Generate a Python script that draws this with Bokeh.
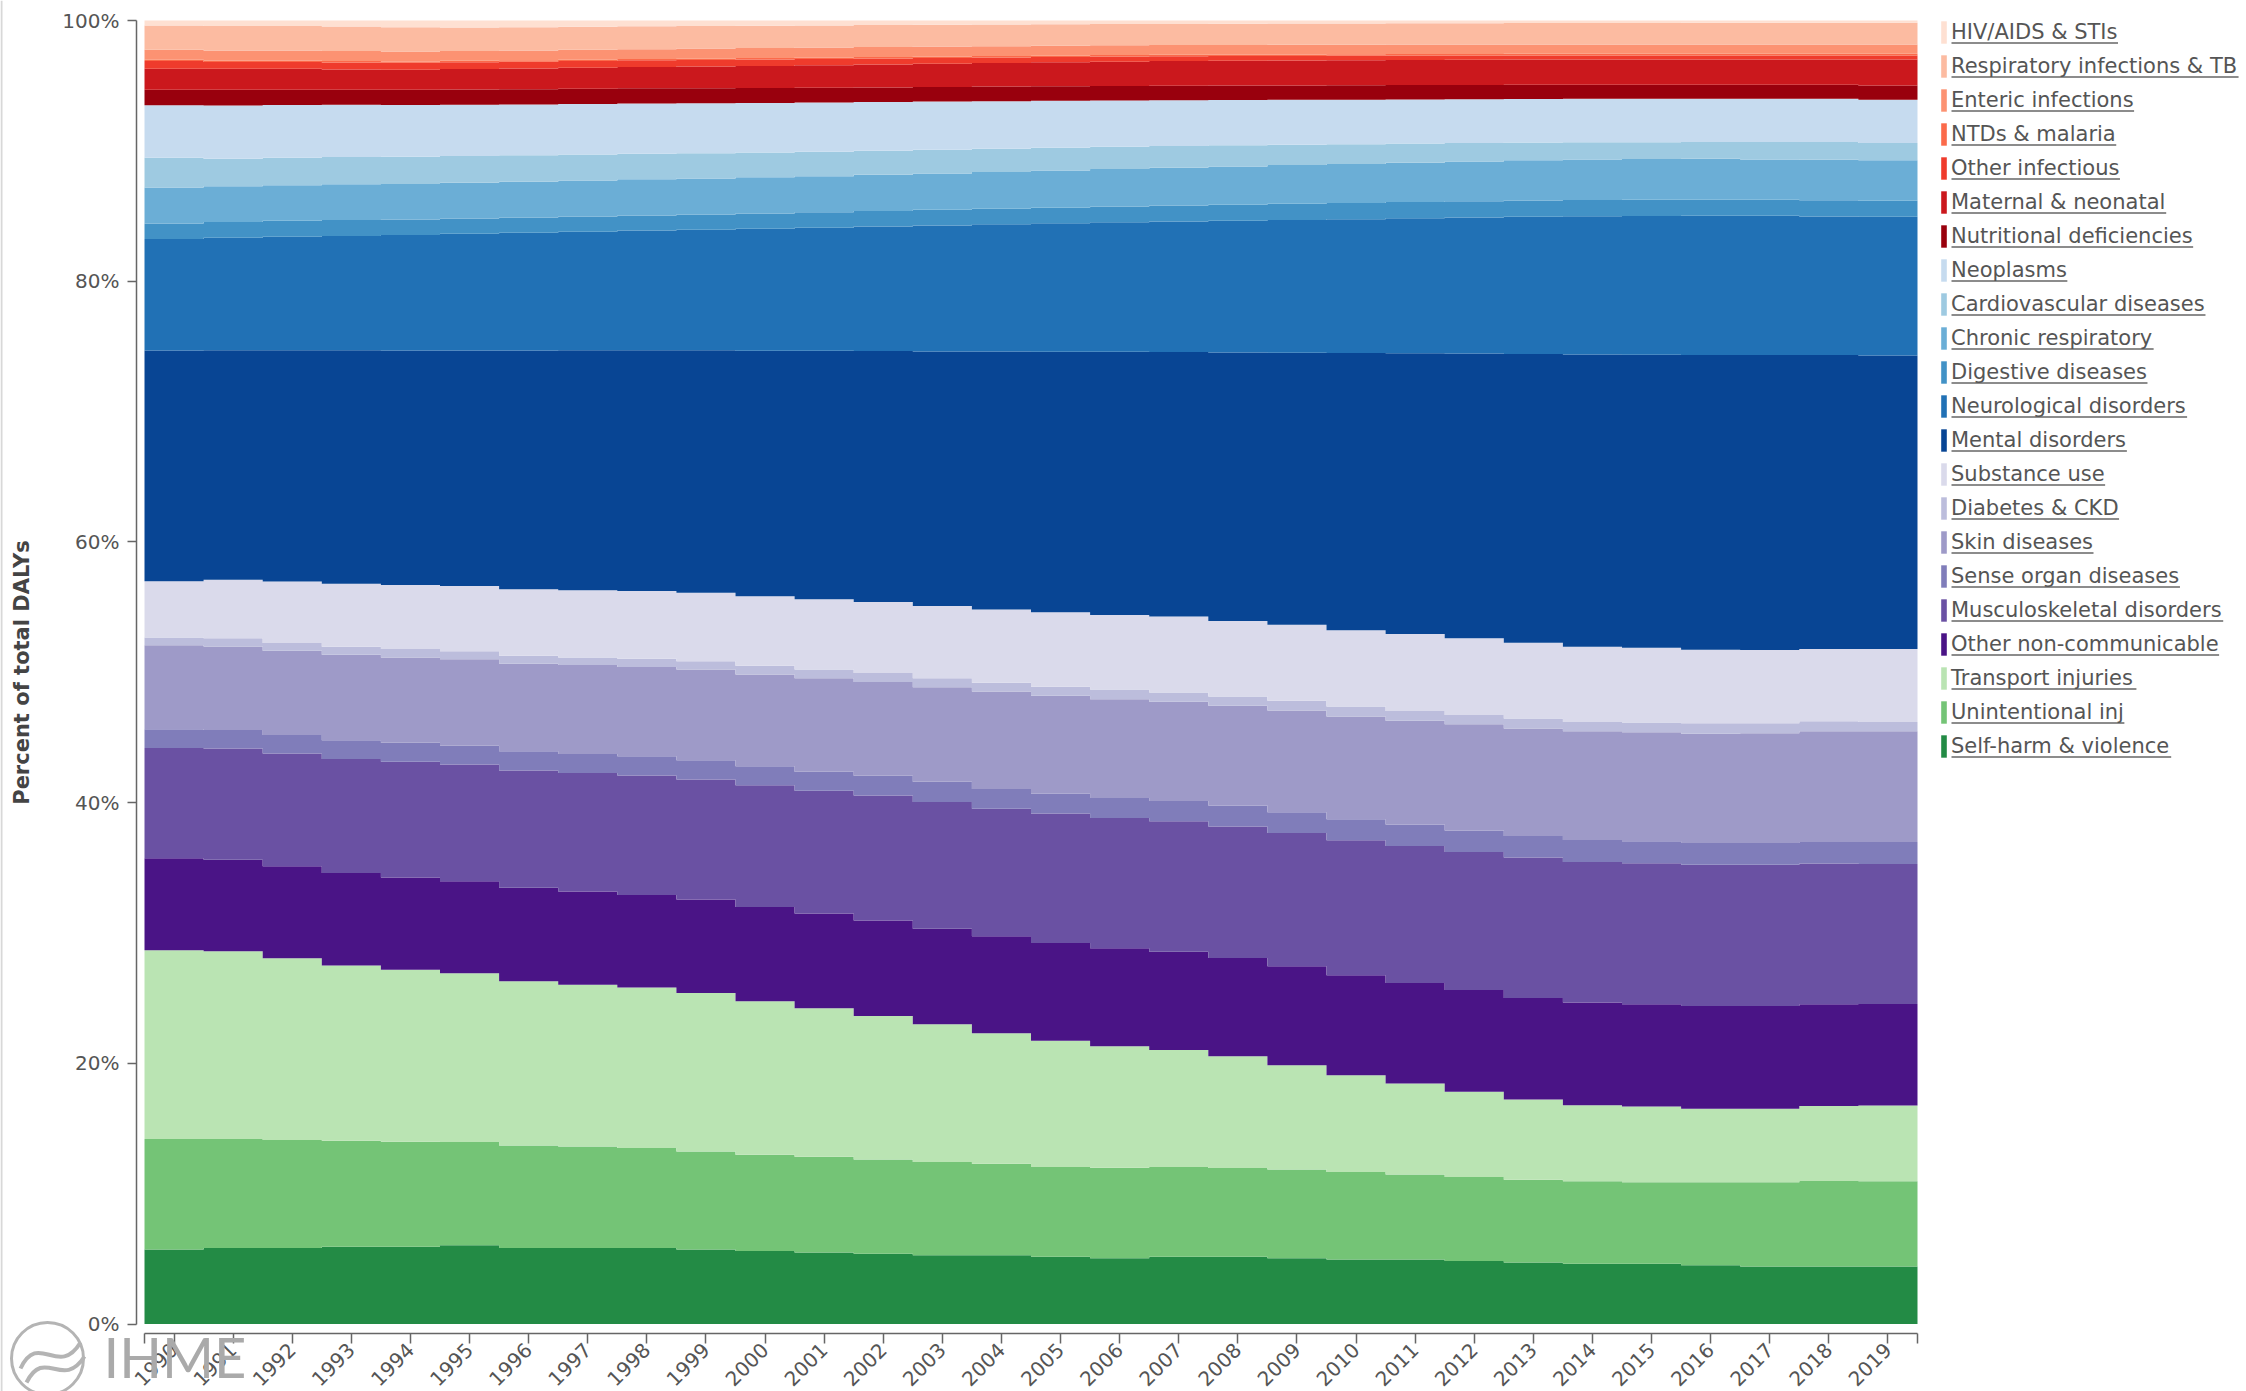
import math
import numpy as np
from bokeh.plotting import figure
from bokeh.models import (Range1d, FixedTicker, Legend, LegendItem, Label,
                          ColumnDataSource, PrintfTickFormatter)
from bokeh.embed import file_html
from bokeh.resources import INLINE

years = list(range(1990, 2020))
year_labels = {y: str(y) for y in years}

# legend order (top of the stack first)
categories = ["HIV/AIDS & STIs", "Respiratory infections & TB", "Enteric infections",
              "NTDs & malaria", "Other infectious", "Maternal & neonatal",
              "Nutritional deficiencies", "Neoplasms", "Cardiovascular diseases",
              "Chronic respiratory", "Digestive diseases", "Neurological disorders",
              "Mental disorders", "Substance use", "Diabetes & CKD", "Skin diseases",
              "Sense organ diseases", "Musculoskeletal disorders", "Other non-communicable",
              "Transport injuries", "Unintentional inj", "Self-harm & violence"]
colors = ["#fee0d2", "#fcbba1", "#fc9272", "#fb6a4a", "#ef3b2c", "#cb181d", "#99000d",
          "#c6dbef", "#9ecae1", "#6baed6", "#4292c6", "#2171b5", "#084594",
          "#dadaeb", "#bcbddc", "#9e9ac8", "#807dba", "#6a51a3", "#4a1486",
          "#bae4b3", "#74c476", "#238b45"]

# share of total DALYs (%), 1990..2019
hiv_stis = [0.38, 0.43, 0.43, 0.46, 0.51, 0.54, 0.52, 0.48, 0.44, 0.42, 0.40, 0.38, 0.35, 0.33, 0.31,
            0.29, 0.27, 0.26, 0.25, 0.24, 0.23, 0.22, 0.21, 0.20, 0.19, 0.19, 0.18, 0.18, 0.18, 0.18]
respiratory_tb = [1.87, 1.87, 1.87, 1.89, 1.87, 1.80, 1.78, 1.77, 1.76, 1.74, 1.72, 1.70, 1.69, 1.67, 1.66,
                  1.65, 1.64, 1.63, 1.63, 1.63, 1.63, 1.63, 1.64, 1.64, 1.65, 1.65, 1.66, 1.66, 1.66, 1.66]
enteric = [0.76, 0.77, 0.77, 0.77, 0.77, 0.76, 0.76, 0.76, 0.76, 0.77, 0.77, 0.77, 0.77, 0.77, 0.76,
           0.76, 0.75, 0.75, 0.74, 0.74, 0.74, 0.73, 0.72, 0.72, 0.72, 0.72, 0.72, 0.72, 0.72, 0.72]
ntds_malaria = [0.10, 0.11, 0.11, 0.10, 0.10, 0.10, 0.10, 0.10, 0.10, 0.10, 0.11, 0.11, 0.11, 0.11, 0.11,
                0.11, 0.11, 0.11, 0.11, 0.11, 0.11, 0.11, 0.12, 0.12, 0.12, 0.12, 0.12, 0.12, 0.12, 0.12]
other_infectious = [0.59, 0.53, 0.53, 0.54, 0.53, 0.53, 0.53, 0.52, 0.51, 0.50, 0.49, 0.48, 0.46, 0.44, 0.42,
                    0.40, 0.39, 0.37, 0.36, 0.35, 0.34, 0.34, 0.33, 0.32, 0.32, 0.32, 0.32, 0.32, 0.32, 0.32]
maternal_neonatal = [1.61, 1.61, 1.61, 1.56, 1.54, 1.57, 1.59, 1.62, 1.64, 1.67, 1.70, 1.73, 1.76, 1.79, 1.82,
                     1.85, 1.87, 1.89, 1.91, 1.92, 1.93, 1.93, 1.93, 1.94, 1.93, 1.93, 1.94, 1.94, 1.94, 1.99]
nutritional = [1.20, 1.20, 1.18, 1.16, 1.18, 1.17, 1.17, 1.17, 1.17, 1.16, 1.14, 1.13, 1.12, 1.12, 1.12,
               1.11, 1.11, 1.11, 1.10, 1.10, 1.10, 1.10, 1.10, 1.09, 1.09, 1.08, 1.07, 1.07, 1.07, 1.10]
neoplasms = [4.04, 4.10, 4.04, 4.01, 3.97, 3.94, 3.90, 3.87, 3.85, 3.83, 3.81, 3.78, 3.75, 3.71, 3.66,
             3.61, 3.56, 3.52, 3.49, 3.45, 3.42, 3.39, 3.37, 3.35, 3.34, 3.34, 3.33, 3.33, 3.33, 3.32]
cardiovascular = [2.28, 2.11, 2.12, 2.09, 2.09, 2.06, 2.03, 2.00, 1.97, 1.94, 1.91, 1.88, 1.85, 1.82, 1.78,
                  1.75, 1.71, 1.67, 1.62, 1.57, 1.52, 1.47, 1.41, 1.36, 1.32, 1.29, 1.28, 1.33, 1.35, 1.33]
chronic_respiratory = [2.76, 2.74, 2.73, 2.74, 2.74, 2.75, 2.76, 2.77, 2.77, 2.77, 2.77, 2.77, 2.78, 2.79, 2.82,
                       2.85, 2.88, 2.91, 2.94, 2.97, 3.00, 3.03, 3.06, 3.09, 3.11, 3.13, 3.14, 3.09, 3.11, 3.11]
digestive = [1.20, 1.21, 1.23, 1.23, 1.18, 1.17, 1.16, 1.16, 1.16, 1.17, 1.18, 1.19, 1.19, 1.20, 1.20,
             1.20, 1.21, 1.23, 1.24, 1.25, 1.25, 1.25, 1.25, 1.25, 1.24, 1.24, 1.24, 1.24, 1.25, 1.23]
neurological = [8.55, 8.65, 8.71, 8.78, 8.88, 8.96, 9.05, 9.12, 9.20, 9.27, 9.37, 9.46, 9.57, 9.69, 9.78,
                9.88, 9.95, 10.02, 10.11, 10.19, 10.28, 10.37, 10.45, 10.53, 10.62, 10.67, 10.70, 10.70, 10.65, 10.65]
mental = [17.74, 17.63, 17.76, 17.94, 18.01, 18.09, 18.35, 18.43, 18.50, 18.63, 18.87, 19.10, 19.28, 19.55, 19.81,
          20.01, 20.22, 20.33, 20.63, 20.91, 21.30, 21.57, 21.86, 22.19, 22.45, 22.50, 22.63, 22.66, 22.58, 22.55]
substance_use = [4.32, 4.50, 4.73, 4.83, 4.92, 5.02, 5.11, 5.16, 5.19, 5.25, 5.34, 5.39, 5.45, 5.55, 5.64,
                 5.73, 5.73, 5.83, 5.80, 5.83, 5.85, 5.91, 5.91, 5.82, 5.78, 5.75, 5.66, 5.63, 5.55, 5.60]
diabetes_ckd = [0.59, 0.62, 0.59, 0.62, 0.66, 0.61, 0.62, 0.59, 0.65, 0.63, 0.67, 0.67, 0.69, 0.69, 0.67,
                0.69, 0.74, 0.71, 0.72, 0.75, 0.77, 0.74, 0.71, 0.77, 0.72, 0.75, 0.79, 0.76, 0.77, 0.72]
skin = [6.45, 6.42, 6.47, 6.57, 6.55, 6.65, 6.72, 6.83, 6.85, 6.98, 7.05, 7.18, 7.21, 7.26, 7.50,
        7.50, 7.60, 7.63, 7.67, 7.82, 7.90, 7.98, 8.16, 8.26, 8.36, 8.36, 8.41, 8.44, 8.51, 8.51]
sense_organ = [1.43, 1.43, 1.43, 1.43, 1.45, 1.45, 1.48, 1.46, 1.48, 1.48, 1.46, 1.46, 1.53, 1.56, 1.50,
               1.55, 1.53, 1.55, 1.61, 1.59, 1.61, 1.64, 1.64, 1.64, 1.69, 1.69, 1.67, 1.67, 1.64, 1.69]
musculoskeletal = [8.48, 8.54, 8.65, 8.77, 8.90, 8.96, 9.01, 9.10, 9.18, 9.21, 9.36, 9.43, 9.59, 9.74, 9.80,
                   9.95, 10.02, 10.03, 10.10, 10.25, 10.38, 10.53, 10.61, 10.79, 10.79, 10.84, 10.84, 10.84, 10.82, 10.74]
other_non_communicable = [7.06, 7.03, 7.08, 7.11, 7.09, 7.08, 7.18, 7.16, 7.11, 7.19, 7.24, 7.29, 7.34, 7.34, 7.46,
                          7.50, 7.52, 7.54, 7.55, 7.60, 7.67, 7.73, 7.82, 7.80, 7.88, 7.85, 7.90, 7.90, 7.82, 7.80]
transport = [14.50, 14.42, 13.96, 13.45, 13.22, 12.96, 12.61, 12.43, 12.32, 12.17, 11.79, 11.41, 11.03, 10.59, 10.03,
             9.71, 9.33, 9.00, 8.59, 8.00, 7.44, 6.98, 6.55, 6.16, 5.85, 5.83, 5.65, 5.65, 5.75, 5.83]
unintentional = [8.49, 8.38, 8.30, 8.14, 8.06, 7.93, 7.89, 7.81, 7.69, 7.54, 7.39, 7.35, 7.25, 7.16, 7.03,
                 6.89, 6.95, 6.89, 6.81, 6.82, 6.73, 6.54, 6.45, 6.36, 6.34, 6.26, 6.37, 6.47, 6.58, 6.55]
self_harm_violence = [5.72, 5.83, 5.83, 5.94, 5.94, 6.05, 5.83, 5.83, 5.83, 5.72, 5.61, 5.50, 5.39, 5.28, 5.28,
                      5.17, 5.06, 5.17, 5.17, 5.06, 4.95, 4.95, 4.84, 4.73, 4.62, 4.62, 4.51, 4.41, 4.41, 4.41]

series = [hiv_stis, respiratory_tb, enteric, ntds_malaria, other_infectious, maternal_neonatal,
          nutritional, neoplasms, cardiovascular, chronic_respiratory, digestive, neurological,
          mental, substance_use, diabetes_ckd, skin, sense_organ, musculoskeletal,
          other_non_communicable, transport, unintentional, self_harm_violence]

# ---- geometry (canvas pixels) ----
W, H = 2246, 1391
PX_PER_YEAR = 59.1
PX_PER_PCT = 13.035
X0_PX = 144          # where 1989.5 sits
Y100_PX = 20         # where 100% sits
x_start = 1989.5 - X0_PX / PX_PER_YEAR
x_end = x_start + W / PX_PER_YEAR
y_end = 100 + Y100_PX / PX_PER_PCT
y_start = y_end - H / PX_PER_PCT


def px_x(px):
    return x_start + px / PX_PER_YEAR


def px_y(px):
    return y_end - px / PX_PER_PCT


p = figure(width=W, height=H, x_range=Range1d(x_start, x_end),
           y_range=Range1d(y_start, y_end), output_backend="svg",
           toolbar_location=None, min_border=0)
p.outline_line_color = None
p.xgrid.visible = False
p.ygrid.visible = False
p.background_fill_color = "white"

# 100% stacked step areas, stacked from the bottom (last legend entry) upward
vals = np.array(series[::-1], dtype=float)
pct = vals / vals.sum(axis=0) * 100.0
upper = np.cumsum(pct, axis=0)
lower = upper - pct
edges = [y - 0.5 for y in years] + [years[-1] + 0.5]
renderers = {}
for k, (name, col) in enumerate(zip(categories[::-1], colors[::-1])):
    lo = list(lower[k]) + [lower[k][-1]]
    hi = list(upper[k]) + [upper[k][-1]]
    src = ColumnDataSource(dict(x=edges, y1=lo, y2=hi))
    renderers[name] = p.varea_step(x="x", y1="y1", y2="y2", step_mode="after",
                                   source=src, fill_color=col)

FONT = "DejaVu Sans"
LEG_ROW, LEG_GAP, LEG_TOP, LEG_X = 28, 6, 18, 1940
leg_h = len(categories) * LEG_ROW + (len(categories) - 1) * LEG_GAP
legend = Legend(items=[LegendItem(label=c, renderers=[renderers[c]]) for c in categories],
                location=(LEG_X, H - LEG_TOP - leg_h), margin=0, padding=0,
                spacing=LEG_GAP, glyph_width=7, glyph_height=LEG_ROW, label_height=LEG_ROW,
                label_standoff=4, label_text_font=FONT, label_text_font_size="21px",
                label_text_color="#555555", border_line_color=None,
                background_fill_alpha=0)
p.add_layout(legend, "center")

# underline under each legend label (link style); widths from DejaVu Sans advances
ADV = {" ": 651, "&": 1597, "/": 690, "-": 739, "A": 1401, "B": 1405, "C": 1430, "D": 1577,
       "E": 1294, "H": 1540, "I": 604, "K": 1343, "M": 1767, "N": 1532, "O": 1612, "R": 1423,
       "S": 1300, "T": 1251, "U": 1499, "V": 1401, "a": 1255, "b": 1300, "c": 1126, "d": 1300,
       "e": 1260, "f": 721, "g": 1300, "h": 1298, "i": 569, "j": 569, "k": 1186, "l": 569,
       "m": 1995, "n": 1298, "o": 1253, "p": 1300, "r": 842, "s": 1067, "t": 803, "u": 1298,
       "v": 1212, "y": 1212}
ux0, ux1, uy = [], [], []
for i, c in enumerate(categories):
    w = sum(ADV.get(ch, 1250) for ch in c) / 2048 * 21
    x0 = LEG_X + 7 + 4
    ux0.append(px_x(x0))
    ux1.append(px_x(x0 + w))
    uy.append(px_y(LEG_TOP + i * (LEG_ROW + LEG_GAP) + 24.5))
p.segment(x0=ux0, y0=uy, x1=ux1, y1=uy, line_color="#666666", line_width=1.6)

AX_COL = "#666666"
# y axis, offset a little to the left of the data
yax = p.yaxis[0]
yax.fixed_location = px_x(136)
yax.ticker = FixedTicker(ticks=[0, 20, 40, 60, 80, 100])
yax.formatter = PrintfTickFormatter(format="%d%%")
yax.bounds = (0, 100)
yax.major_tick_out = 9
yax.major_tick_in = 0
yax.minor_tick_line_color = None
yax.major_label_standoff = 8
yax.major_label_text_font = FONT
yax.major_label_text_font_size = "20px"
yax.major_label_text_color = "#555555"
yax.axis_line_color = AX_COL
yax.axis_line_width = 1.5
yax.major_tick_line_color = AX_COL
yax.major_tick_line_width = 1.5
yax.axis_label = "Percent of total DALYs"
yax.axis_label_text_font = FONT
yax.axis_label_text_font_size = "21px"
yax.axis_label_text_font_style = "bold"
yax.axis_label_text_color = "#444444"
yax.axis_label_standoff = 25

# x axis, offset a little below the data; ticks at each year plus both ends
xax = p.xaxis[0]
xax.fixed_location = px_y(1333)
xax.ticker = FixedTicker(ticks=years, minor_ticks=[edges[0], edges[-1]])
xax.major_label_overrides = year_labels
xax.bounds = (edges[0], edges[-1])
xax.major_tick_out = 10
xax.major_tick_in = 0
xax.minor_tick_out = 10
xax.minor_tick_in = 0
xax.major_tick_line_color = AX_COL
xax.minor_tick_line_color = AX_COL
xax.major_tick_line_width = 1.5
xax.minor_tick_line_width = 1.5
xax.axis_line_color = AX_COL
xax.axis_line_width = 1.5
xax.major_label_orientation = math.pi / 4
xax.major_label_standoff = 3
xax.major_label_text_font = FONT
xax.major_label_text_font_size = "20px"
xax.major_label_text_color = "#555555"

# thin page rule at the far left
p.segment(x0=[px_x(1)], y0=[y_start], x1=[px_x(1)], y1=[y_end], line_color="#d8d8d8",
          line_width=2)

# IHME watermark: ring with a swoosh, plus the letters
p.scatter(x=[px_x(47)], y=[px_y(1358)], size=72, marker="circle", fill_color=None,
          line_color="#b4b4b4", line_width=3)
p.bezier(x0=[px_x(20), px_x(26)], y0=[px_y(1368), px_y(1382)],
         x1=[px_x(80), px_x(84)], y1=[px_y(1342), px_y(1356)],
         cx0=[px_x(38), px_x(44)], cy0=[px_y(1330), px_y(1346)],
         cx1=[px_x(58), px_x(62)], cy1=[px_y(1378), px_y(1390)],
         line_color="#b4b4b4", line_width=4)
p.add_layout(Label(x=px_x(103), y=px_y(1356), text="IHME", text_font="Lato",
                   text_font_size="56px", text_color="#aaaaaa", text_align="left",
                   text_baseline="middle"))

open("out.html", "w").write(file_html(p, INLINE))
